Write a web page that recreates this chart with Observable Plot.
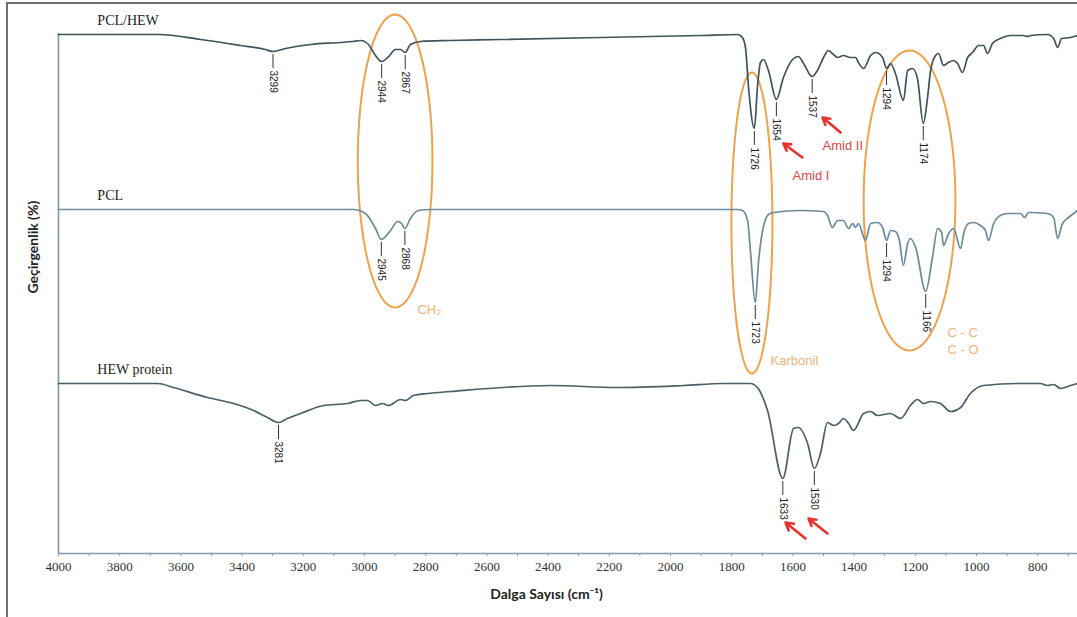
<!DOCTYPE html>
<html><head><meta charset="utf-8">
<script src="https://cdn.jsdelivr.net/npm/d3@7"></script>
<script src="https://cdn.jsdelivr.net/npm/@observablehq/plot@0.6"></script>
<style>
body{margin:0;background:#fff;}
#wrap{position:relative;width:1077px;height:617px;overflow:hidden;}
#frame{position:absolute;left:6px;top:2px;width:1100px;height:700px;border-left:2px solid #707070;border-top:2px solid #707070;pointer-events:none;}
</style></head>
<body><div id="wrap"><div id="frame"></div></div>
<script>
// Wavenumber (cm-1) and transmittance (stacked, arbitrary %)
const pclHew = [[4000,103.8],[3673,103.8],[3536,102.8],[3405,101.6],[3324,100.8],[3299,100.4],[3258,101.0],[3176,101.8],[3078,102.2],[3039,102.4],[3013,102.6],[2987,101.8],[2964,99.6],[2944,98.4],[2921,99.4],[2899,100.8],[2882,100.8],[2867,100.2],[2850,101.8],[2817,102.4],[2719,102.6],[2556,102.8],[2229,103.2],[1902,103.6],[1781,103.8],[1765,103.2],[1755,101.2],[1745,93.2],[1726,85.0],[1716,93.2],[1706,98.2],[1696,98.8],[1680,96.6],[1654,90.8],[1631,95.2],[1601,98.8],[1582,99.4],[1565,98.0],[1537,95.4],[1520,96.6],[1500,99.2],[1484,100.6],[1471,100.0],[1454,99.2],[1435,99.6],[1412,99.2],[1395,99.2],[1386,98.2],[1369,97.0],[1346,99.6],[1330,100.2],[1307,99.2],[1294,97.0],[1281,98.0],[1265,96.0],[1239,90.6],[1225,96.6],[1209,97.0],[1193,95.0],[1174,86.0],[1160,91.2],[1150,96.6],[1134,99.6],[1124,100.0],[1108,97.6],[1092,98.2],[1075,98.6],[1062,98.0],[1046,96.2],[1029,99.2],[1013,100.2],[993,101.6],[977,101.6],[964,100.0],[948,102.0],[922,103.0],[889,103.6],[846,103.6],[833,103.4],[823,103.6],[768,103.8],[748,103.0],[735,101.2],[722,103.0],[693,103.2],[670,103.6]];

const pcl = [[4000,68.8],[3536,68.8],[3036,68.8],[2997,68.0],[2964,65.0],[2945,62.8],[2915,64.6],[2892,66.4],[2879,66.0],[2868,65.0],[2850,67.0],[2824,68.6],[2784,68.8],[2556,68.8],[1902,68.8],[1781,68.8],[1765,68.6],[1748,66.6],[1739,60.6],[1723,50.2],[1712,58.6],[1699,64.6],[1680,67.8],[1663,68.2],[1575,68.6],[1500,68.4],[1487,67.6],[1471,65.2],[1454,66.6],[1435,66.6],[1418,65.0],[1405,66.0],[1395,65.2],[1386,66.0],[1363,62.6],[1346,66.0],[1324,66.2],[1307,65.2],[1294,62.6],[1281,64.6],[1265,64.4],[1252,62.6],[1239,57.6],[1225,62.0],[1216,63.0],[1199,61.2],[1166,52.4],[1144,59.2],[1127,65.0],[1114,64.2],[1108,61.6],[1091,64.0],[1075,65.0],[1052,61.0],[1042,64.0],[1026,66.0],[1010,66.2],[987,65.6],[971,64.6],[961,62.6],[944,66.0],[922,67.6],[899,68.0],[856,68.0],[843,67.2],[830,68.2],[768,68.0],[748,67.2],[735,63.0],[719,66.0],[699,67.2],[670,68.6]];

const hewProtein = [[4000,34.0],[3676,34.0],[3624,33.2],[3513,31.2],[3428,30.0],[3363,28.6],[3317,27.2],[3281,26.2],[3252,27.0],[3209,28.0],[3134,29.6],[3056,30.0],[3013,30.6],[2990,30.6],[2964,29.6],[2941,30.0],[2922,29.6],[2882,30.8],[2866,30.6],[2840,31.6],[2794,32.0],[2719,32.4],[2392,33.6],[2173,33.2],[1958,33.6],[1827,34.0],[1739,34.0],[1716,33.2],[1683,28.6],[1633,15.0],[1598,25.0],[1582,25.2],[1552,22.0],[1530,17.0],[1510,20.0],[1487,26.2],[1467,25.6],[1451,26.0],[1435,27.0],[1418,26.0],[1402,24.6],[1369,28.0],[1346,28.4],[1324,27.6],[1281,28.0],[1248,27.0],[1216,29.6],[1193,30.8],[1173,30.0],[1150,30.4],[1118,30.0],[1085,28.4],[1052,29.2],[1020,32.0],[977,33.6],[866,34.0],[791,34.0],[768,33.6],[748,33.8],[725,33.0],[693,33.6],[670,34.0]];

const seriesNames = ["PCL/HEW", "PCL", "HEW protein"];
const pclHewPeaks = [3299, 2944, 2867, 1726, 1654, 1537, 1294, 1174];
const pclPeaks = [2945, 2868, 1723, 1294, 1166];
const hewPeaks = [3281, 1633, 1530];
const tickValues = d3.range(4000, 650, -100);
const tickLabels = d3.range(4000, 650, -200);

// annotation ellipses: center (cm-1, %), radii (cm-1, %)
const ellipses = [
  {id: "CH2", cx: 2900, cy: 78.5, rx: 122, ry: 29.3},
  {id: "Karbonil", cx: 1734, cy: 66.1, rx: 67, ry: 30.1},
  {id: "CC", cx: 1219, cy: 70.6, rx: 150, ry: 30}
];
const orangeTexts = [
  {w: 2827, t: 48.8, text: "CH₂"},
  {w: 1673, t: 38.6, text: "Karbonil"},
  {w: 1095, t: 44.2, text: "C - C"},
  {w: 1095, t: 40.8, text: "C - O"}
];
const redTexts = [
  {w: 1601, t: 75.6, text: "Amid I"},
  {w: 1503, t: 81.6, text: "Amid II"}
];
const redArrows = [
  {w1: 1569, t1: 79.2, w2: 1631, t2: 82.0},
  {w1: 1444, t1: 84.2, w2: 1503, t2: 87.2},
  {w1: 1559, t1: 3.0, w2: 1624, t2: 6.2},
  {w1: 1487, t1: 4.0, w2: 1549, t2: 7.0}
];

const toRows = (arr) => arr.map(([w, t]) => ({w, t}));
function valueAt(arr, w) {
  for (let i = 0; i < arr.length - 1; i++) {
    const [w0, t0] = arr[i], [w1, t1] = arr[i + 1];
    if (w <= w0 && w >= w1) return t0 + (t1 - t0) * (w - w0) / (w1 - w0);
  }
  return arr[arr.length - 1][1];
}
const peakRows = [
  ...pclHewPeaks.map(w => ({w, t: valueAt(pclHew, w)})),
  ...pclPeaks.map(w => ({w, t: valueAt(pcl, w)})),
  ...hewPeaks.map(w => ({w, t: valueAt(hewProtein, w)}))
];
const seriesData = [pclHew, pcl, hewProtein];
const nameRows = seriesNames.map((name, i) => ({name, w: 3873, t: seriesData[i][0][1]}));
const ellipseRows = ellipses.flatMap(e => d3.range(0, 121).map(k => {
  const a = k / 120 * 2 * Math.PI;
  return {id: e.id, w: e.cx + e.rx * Math.cos(a), t: e.cy + e.ry * Math.sin(a)};
}));

const serif = "Liberation Serif, Times New Roman, serif";
const sans = "Liberation Sans, Arial, sans-serif";
const titleFont = "Lato, Open Sans, sans-serif";
const axisColor = "#7f9aaa";

const chart = Plot.plot({
  width: 1077, height: 617,
  marginLeft: 58, marginRight: 0, marginTop: 33, marginBottom: 64,
  x: {domain: [4000, 670], axis: null},
  y: {domain: [0, 104], axis: null},
  style: {background: "transparent", overflow: "visible", fontFamily: serif},
  marks: [
    Plot.ruleY([0], {stroke: axisColor, strokeWidth: 1.6}),
    Plot.ruleX([4000], {y1: 0, y2: 104, stroke: axisColor, strokeWidth: 1.6}),
    Plot.ruleX(tickValues, {y1: 0, y2: 0, insetTop: 0, insetBottom: -3, stroke: axisColor, strokeWidth: 1}),
    Plot.text(tickLabels, {x: d => d, frameAnchor: "bottom", dy: 17, text: d => String(d), fontFamily: serif, fontSize: 13, fill: "#333"}),
    Plot.line(ellipseRows, {x: "w", y: "t", z: "id", stroke: "#efa24c", strokeWidth: 2}),
    Plot.line(toRows(pclHew), {x: "w", y: "t", stroke: "#3f535d", strokeWidth: 1.7, curve: "monotone-x"}),
    Plot.line(toRows(pcl), {x: "w", y: "t", stroke: "#6d8a99", strokeWidth: 1.7, curve: "monotone-x"}),
    Plot.line(toRows(hewProtein), {x: "w", y: "t", stroke: "#4b5e68", strokeWidth: 1.7, curve: "monotone-x"}),
    Plot.ruleX(peakRows, {x: "w", y1: "t", y2: "t", insetTop: 3, insetBottom: -17, stroke: "#333", strokeWidth: 1}),
    Plot.text(peakRows, {x: "w", y: "t", text: d => String(d.w), rotate: 90, textAnchor: "start", dy: 19, fontFamily: sans, fontSize: 10, fill: "#222"}),
    Plot.text(nameRows, {x: "w", y: "t", text: "name", textAnchor: "start", dy: -14, fontFamily: serif, fontSize: 14, fill: "#222"}),
    Plot.text(orangeTexts, {x: "w", y: "t", text: "text", textAnchor: "start", fontFamily: sans, fontSize: 13, fill: "#f0b477"}),
    Plot.text(redTexts, {x: "w", y: "t", text: "text", textAnchor: "start", fontFamily: sans, fontSize: 13, fill: "#de4448"}),
    Plot.arrow(redArrows, {x1: "w1", y1: "t1", x2: "w2", y2: "t2", stroke: "#e8322e", strokeWidth: 2.6, headLength: 8}),
    Plot.text(["Geçirgenlik (%)"], {frameAnchor: "left", dx: -25, rotate: -90, fontFamily: titleFont, fontWeight: "bold", fontSize: 14, fill: "#222"}),
    Plot.text([{w: 2405, label: "Dalga Sayısı (cm⁻¹)"}], {x: "w", text: "label", frameAnchor: "bottom", dy: 45, fontFamily: titleFont, fontWeight: "bold", fontSize: 14, fill: "#222"})
  ]
});
document.getElementById("wrap").appendChild(chart);
</script>
</body></html>
